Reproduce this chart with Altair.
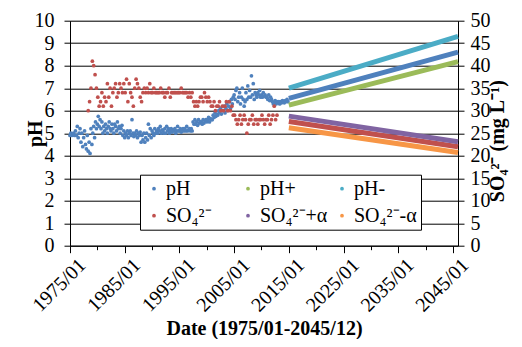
import altair as alt
import pandas as pd

# ---------------- data ----------------
# pH observations, six per year (Jan, Mar, May, Jul, Sep, Nov), 1975-2014
ph_first_year = 1975
ph_obs = [
    4.90, 5.00, 4.90, 4.95, 5.00, 4.90,   # 1975
    5.10, 4.90, 5.30, 4.80, 5.00, 5.20,   # 1976
    4.60, 5.00, 4.40, 4.80, 5.10, 4.50,   # 1977
    4.30, 4.90, 4.20, 4.60, 4.10, 5.20,   # 1978
    4.50, 5.00, 5.30, 4.80, 5.50, 5.20,   # 1979
    5.40, 5.75, 5.30, 5.60, 5.20, 5.50,   # 1980
    5.00, 5.30, 5.10, 5.40, 5.20, 5.00,   # 1981
    5.30, 5.50, 5.20, 5.10, 5.40, 5.20,   # 1982
    5.00, 5.40, 5.30, 5.10, 5.50, 5.20,   # 1983
    5.30, 5.00, 5.20, 5.35, 4.90, 5.10,   # 1984
    4.80, 5.00, 4.90, 5.10, 4.80, 5.00,   # 1985
    5.10, 4.90, 5.60, 5.00, 4.85, 5.00,   # 1986
    4.90, 5.10, 4.80, 5.00, 4.90, 5.05,   # 1987
    4.60, 4.90, 4.70, 5.00, 4.60, 4.80,   # 1988
    5.00, 4.70, 5.40, 4.90, 5.20, 4.80,   # 1989
    5.10, 5.00, 4.90, 5.20, 5.00, 5.10,   # 1990
    5.00, 5.20, 5.10, 5.30, 5.00, 5.15,   # 1991
    5.10, 5.00, 5.20, 5.00, 5.30, 5.10,   # 1992
    5.20, 5.00, 5.10, 5.20, 5.05, 5.15,   # 1993
    5.10, 5.20, 5.00, 5.10, 5.30, 5.10,   # 1994
    5.10, 5.20, 5.05, 5.10, 5.20, 5.10,   # 1995
    5.20, 5.10, 5.30, 5.10, 5.15, 5.20,   # 1996
    5.10, 5.20, 5.10, 5.50, 5.40, 5.60,   # 1997
    5.40, 5.50, 5.35, 5.60, 5.45, 5.50,   # 1998
    5.50, 5.40, 5.60, 5.45, 5.55, 5.60,   # 1999
    5.50, 5.60, 5.70, 5.50, 5.65, 5.60,   # 2000
    5.60, 5.80, 5.70, 5.90, 5.75, 5.85,   # 2001
    5.80, 6.00, 5.90, 6.10, 5.85, 6.00,   # 2002
    6.00, 6.20, 5.90, 6.10, 6.30, 6.00,   # 2003
    6.20, 6.40, 6.10, 6.50, 6.30, 6.60,   # 2004
    6.70, 6.50, 6.90, 7.00, 6.40, 6.60,   # 2005
    6.80, 6.30, 6.60, 7.00, 6.50, 6.20,   # 2006
    6.40, 6.80, 6.50, 7.10, 6.60, 6.90,   # 2007
    6.60, 7.55, 6.70, 7.20, 6.50, 6.80,   # 2008
    6.70, 6.60, 6.80, 6.70, 6.90, 6.60,   # 2009
    6.70, 6.60, 6.80, 6.65, 6.70, 6.60,   # 2010
    6.60, 6.50, 6.70, 6.45, 6.60, 6.50,   # 2011
    6.40, 6.30, 6.35, 6.45, 6.30, 6.40,   # 2012
    6.35, 6.40, 6.30, 6.40, 6.35, 6.45,   # 2013
    6.40, 6.35, 6.45, 6.40, 6.50, 6.40,   # 2014
]

# SO4(2-) observations (mg/L), four per year (Feb, May, Aug, Nov), None = no sample
so4_first_year = 1978
so4_obs = [
    None, 30, 32, 35,   # 1978
    41, 40, 38, 35,     # 1979
    33, 31, 32, 34,     # 1980
    31, 33, 32, 36,     # 1981
    33, 35, 31, 34,     # 1982
    35, 36, 33, 34,     # 1983
    36, 35, 34, 36,     # 1984
    34, 37, 32, 36,     # 1985
    34, 33, 31, 35,     # 1986
    37, 36, 35, 33,     # 1987
    32, 34, 35, 34,     # 1988
    35, 34, 36, 34,     # 1989
    34, 35, 34, 34,     # 1990
    34, 34, 35, 34,     # 1991
    34, 33, 34, 34,     # 1992
    35, 33, 34, 34,     # 1993
    34, 34, 34, 34,     # 1994
    34, 35, 34, 34,     # 1995
    34, 34, 33, 34,     # 1996
    33, 34, 32, 31,     # 1997
    32, 31, 32, 33,     # 1998
    33, 32, 34, 33,     # 1999
    32, 33, 32, 31,     # 2000
    31, 32, 30, 31,     # 2001
    31, 32, 30, 31,     # 2002
    30, 31, 32, 30,     # 2003
    32, 30, 31, 29,     # 2004
    29, 28, 27, 28,     # 2005
    29, 27, 28, 29,     # 2006
    28, 25, 27, 28,     # 2007
    28, 29, 27, 28,     # 2008
    28, 27, 28, 28,     # 2009
    29, 28, 27, 28,     # 2010
    28, 29, 27, 28,     # 2011
    29, 31, 28, 29,     # 2012
]

# projections, 2015/01 -> 2045/12 (start, end)
proj_dates = ["2015/01/01", "2045/12/01"]
ph_proj = [6.55, 8.60]
ph_plus = [6.25, 8.18]
ph_minus = [7.00, 9.30]
so4_proj = [27.6, 22.0]
so4_plus = [28.8, 23.1]
so4_minus = [26.2, 20.7]

series_names = ["pH", "pH+", "pH-", "SO\u2084\u00b2\u207b", "SO\u2084\u00b2\u207b+\u03b1", "SO\u2084\u00b2\u207b-\u03b1"]
series_colors = ["#4F81BD", "#9BBB59", "#4BACC6", "#C0504D", "#8064A2", "#F79646"]

# ---------------- tables ----------------
ph_months = [1, 3, 5, 7, 9, 11]
ph_df = pd.DataFrame({
    "date": [f"{ph_first_year + i // 6}/{ph_months[i % 6]:02d}/01" for i in range(len(ph_obs))],
    "value": ph_obs,
    "series": "pH",
})
so4_months = [2, 5, 8, 11]
so4_rows = [(f"{so4_first_year + i // 4}/{so4_months[i % 4]:02d}/01", v)
            for i, v in enumerate(so4_obs) if v is not None]
so4_df = pd.DataFrame(so4_rows, columns=["date", "value"])
so4_df["series"] = series_names[3]

ph_lines = pd.DataFrame({
    "date": proj_dates * 3,
    "value": ph_proj + ph_plus + ph_minus,
    "series": [series_names[0]] * 2 + [series_names[1]] * 2 + [series_names[2]] * 2,
})
so4_lines = pd.DataFrame({
    "date": proj_dates * 3,
    "value": so4_proj + so4_plus + so4_minus,
    "series": [series_names[3]] * 2 + [series_names[4]] * 2 + [series_names[5]] * 2,
})

# ---------------- encodings ----------------
FONT = "Liberation Serif"
color_scale = alt.Scale(domain=series_names, range=series_colors)

x_ticks = [alt.DateTime(year=y, month=1, date=1) for y in range(1975, 2050, 5)]
x_enc = alt.X(
    "date:T",
    scale=alt.Scale(domain=[alt.DateTime(year=1975, month=1, date=1),
                            alt.DateTime(year=2045, month=12, date=1)]),
    title="Date (1975/01-2045/12)",
    axis=alt.Axis(
        values=x_ticks,
        labelExpr="year(datum.value) % 10 == 5 ? timeFormat(datum.value, '%Y/%m') : ''",
        labelAngle=-45, labelAlign="right", labelBaseline="top",
        labelPadding=2, labelOffset=5, labelOverlap=False, labelFlush=False,
        labelFont=FONT, labelFontSize=20, labelColor="black",
        tickSize={"condition": {"test": "year(datum.value) % 10 == 5", "value": 7}, "value": 4},
        tickColor="black", domainColor="black", grid=False,
        titleFont=FONT, titleFontSize=20, titleFontWeight="bold", titleColor="black",
        titlePadding=3,
    ),
)

legend = alt.Legend(
    orient="none", legendX=70, legendY=154, columns=3, direction="horizontal",
    title=None, fillColor="white", strokeColor="black", padding=4,
    rowPadding=7, columnPadding=4, gridAlign="all",
    symbolType="circle", symbolSize=14, symbolStrokeWidth=0, symbolOffset=0,
    labelFont=FONT, labelFontSize=20, labelColor="black", labelOffset=2, labelLimit=300,
)

left_axis = alt.Axis(
    values=list(range(0, 11)), grid=True, gridColor="black", gridWidth=1,
    tickSize=6, tickColor="black", domainColor="black",
    labelPadding=10, labelFont=FONT, labelFontSize=20, labelColor="black",
    titleFont=FONT, titleFontSize=20, titleFontWeight="bold", titleColor="black",
    titleX=-29, titleY=112.5, titleAngle=270, titleBaseline="alphabetic", titleAlign="center",
)
right_axis = alt.Axis(
    orient="right", values=list(range(0, 51, 5)), grid=False,
    tickSize=6, tickColor="black", domainColor="black",
    labelPadding=6, labelFont=FONT, labelFontSize=20, labelColor="black",
    titleFont=FONT, titleFontSize=20, titleFontWeight="bold", titleColor="black",
    titleX=45, titleY=120, titleAngle=270, titleBaseline="alphabetic", titleAlign="center",
)

y_left = alt.Y("value:Q", scale=alt.Scale(domain=[0, 10], nice=False), axis=left_axis, title="pH")
y_right = alt.Y("value:Q", scale=alt.Scale(domain=[0, 50], nice=False), axis=right_axis,
                title="SO\u2084\u00b2\u207b (mg L\u207b\u00b9)")

ph_points = alt.Chart(ph_df).mark_circle(size=14, opacity=1).encode(
    x=x_enc, y=y_left, color=alt.Color("series:N", scale=color_scale, legend=legend))
ph_proj_lines = alt.Chart(ph_lines).mark_line(strokeWidth=5).encode(
    x=x_enc, y=y_left, detail="series:N",
    stroke=alt.Stroke("series:N", scale=color_scale, legend=None))

so4_points = alt.Chart(so4_df).mark_circle(size=14, opacity=1).encode(
    x=x_enc, y=y_right, color=alt.Color("series:N", scale=color_scale, legend=legend))
so4_proj_lines = alt.Chart(so4_lines).mark_line(strokeWidth=5).encode(
    x=x_enc, y=y_right, detail="series:N",
    stroke=alt.Stroke("series:N", scale=color_scale, legend=None))

left = alt.layer(ph_points, ph_proj_lines)
right = alt.layer(so4_points, so4_proj_lines)

chart = alt.layer(left, right).resolve_scale(y="independent").properties(
    width=388, height=225,
    padding={"left": 62, "top": 12.7, "right": 56, "bottom": 93.3},
    autosize=alt.AutoSizeParams(type="none"),
).configure_view(stroke=None).configure(background="white")

chart.save("out.html", embed_options={"renderer": "svg", "actions": False})
